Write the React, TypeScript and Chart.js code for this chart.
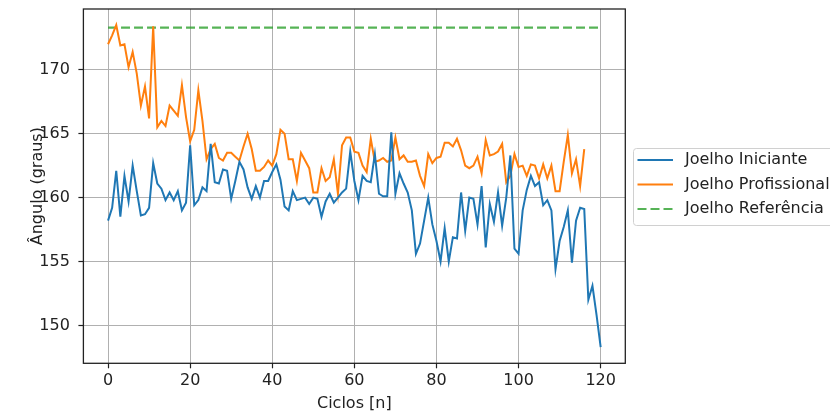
import React, { useEffect, useRef } from "react";
import { Chart, registerables } from "chart.js";

Chart.register(...registerables);

const iniciante = [
  158.2, 159.2, 162.1, 158.5, 161.7, 159.7, 162.5, 160.5, 158.6, 158.7,
  159.2, 162.7, 161.1, 160.7, 159.8, 160.4, 159.8, 160.5, 159.0, 159.6,
  164.1, 159.4, 159.8, 160.8, 160.5, 164.2, 161.2, 161.1, 162.2, 162.1,
  159.9, 161.3, 162.8, 162.2, 160.8, 159.9, 160.9, 160.0, 161.3, 161.3,
  162.0, 162.6, 161.4, 159.3, 159.0, 160.5, 159.8, 159.9, 160.0, 159.5,
  160.0, 159.9, 158.5, 159.7, 160.3, 159.6, 160.0, 160.4, 160.7, 163.6,
  161.3, 159.8, 161.7, 161.3, 161.2, 163.4, 160.3, 160.1, 160.1, 165.1,
  160.3, 161.9, 161.1, 160.4, 159.0, 155.6, 156.4, 158.2, 160.0, 157.9,
  156.6, 155.0, 157.6, 155.0, 156.9, 156.8, 160.4, 157.4, 160.0, 159.9,
  157.9, 160.9, 156.1, 159.5, 158.1, 160.4, 157.8, 160.0, 163.3, 156.0,
  155.6, 159.0, 160.6, 161.7, 160.9, 161.2, 159.4, 159.8, 159.0, 154.4,
  156.6, 157.7, 159.0, 154.9, 158.2, 159.2, 159.1, 152.0, 153.1, 150.8,
  148.3,
];

const profissional = [
  172.0, 172.7, 173.5, 171.9, 172.0, 170.2, 171.4, 169.7, 167.2, 168.7,
  166.2, 173.4, 165.5, 166.0, 165.6, 167.2, 166.8, 166.4, 168.8, 166.3,
  164.4, 165.3, 168.4, 166.0, 163.0, 163.8, 164.2, 163.1, 162.9, 163.5,
  163.5, 163.2, 162.9, 164.0, 165.0, 163.8, 162.1, 162.1, 162.4, 162.9,
  162.5, 163.4, 165.3, 165.0, 163.0, 163.0, 161.3, 163.5, 162.9, 162.3,
  160.4, 160.4, 162.3, 161.3, 161.6, 163.0, 160.3, 164.1, 164.7, 164.7,
  163.6, 163.5, 162.5, 162.0, 164.6, 162.8, 162.9, 163.1, 162.8, 162.9,
  164.7, 163.0, 163.3, 162.8, 162.8, 162.9, 161.7, 160.9, 163.4, 162.7,
  163.1, 163.2, 164.3, 164.3, 164.0, 164.6, 163.7, 162.5, 162.3, 162.5,
  163.2, 161.9, 164.5, 163.3, 163.4, 163.6, 164.2, 161.2, 161.7, 163.4,
  162.4, 162.5, 161.7, 162.6, 162.5, 161.5, 162.6, 161.5, 162.5, 160.5,
  160.5, 162.8, 164.9, 161.9, 163.0, 160.9, 163.8,
];

const referenciaCiclos = [0, 120];
const referencia = [173.3, 173.3];

const xTickValues = [0, 20, 40, 60, 80, 100, 120];
const yTickValues = [150, 155, 160, 165, 170];

const seriesNames = ["Joelho Iniciante", "Joelho Profissional", "Joelho Referência"];
const seriesColors = ["#1f77b4", "#ff7f0e", "rgba(44,160,44,0.8)"];

const FONT = { family: "'DejaVu Sans', sans-serif", size: 16 };
const TEXT = "#222";

const framePlugin = {
  id: "frameAndLegend",
  afterDraw(chart: any) {
    const { ctx, chartArea } = chart;
    ctx.save();
    ctx.strokeStyle = "#222";
    ctx.lineWidth = 1.3;
    ctx.setLineDash([]);
    ctx.strokeRect(
      chartArea.left,
      chartArea.top,
      chartArea.right - chartArea.left,
      chartArea.bottom - chartArea.top
    );

    // legend
    const bx = 633.5, by = 148.5, bw = 230, bh = 77, r = 3;
    ctx.beginPath();
    ctx.moveTo(bx + r, by);
    ctx.lineTo(bx + bw - r, by);
    ctx.quadraticCurveTo(bx + bw, by, bx + bw, by + r);
    ctx.lineTo(bx + bw, by + bh - r);
    ctx.quadraticCurveTo(bx + bw, by + bh, bx + bw - r, by + bh);
    ctx.lineTo(bx + r, by + bh);
    ctx.quadraticCurveTo(bx, by + bh, bx, by + bh - r);
    ctx.lineTo(bx, by + r);
    ctx.quadraticCurveTo(bx, by, bx + r, by);
    ctx.closePath();
    ctx.fillStyle = "rgba(255,255,255,0.8)";
    ctx.fill();
    ctx.strokeStyle = "#d0d0d0";
    ctx.lineWidth = 1;
    ctx.stroke();

    const rows = [160, 184.5, 209];
    ctx.font = `${FONT.size}px ${FONT.family}`;
    ctx.textBaseline = "middle";
    ctx.textAlign = "left";
    chart.data.datasets.forEach((ds: any, i: number) => {
      ctx.beginPath();
      ctx.strokeStyle = ds.borderColor;
      ctx.lineWidth = 2.2;
      ctx.setLineDash(ds.borderDash || []);
      ctx.moveTo(637.5, rows[i]);
      ctx.lineTo(673, rows[i]);
      ctx.stroke();
      ctx.setLineDash([]);
      ctx.fillStyle = TEXT;
      ctx.fillText(ds.label, 685, rows[i]);
    });
    ctx.restore();
  },
};

export default function App() {
  const ref = useRef<HTMLCanvasElement | null>(null);

  useEffect(() => {
    if (!ref.current) return;
    const chart = new Chart(ref.current, {
      type: "line",
      data: {
        datasets: [
          {
            label: seriesNames[0],
            data: iniciante.map((y, i) => ({ x: i, y })),
            borderColor: seriesColors[0],
            borderWidth: 2,
            pointRadius: 0,
            tension: 0,
            fill: false,
          },
          {
            label: seriesNames[1],
            data: profissional.map((y, i) => ({ x: i, y })),
            borderColor: seriesColors[1],
            borderWidth: 2,
            pointRadius: 0,
            tension: 0,
            fill: false,
          },
          {
            label: seriesNames[2],
            data: referencia.map((y, i) => ({ x: referenciaCiclos[i], y })),
            borderColor: seriesColors[2],
            borderWidth: 2.4,
            borderDash: [9, 4],
            pointRadius: 0,
            tension: 0,
            fill: false,
          },
        ],
      },
      options: {
        animation: false,
        responsive: false,
        maintainAspectRatio: false,
        devicePixelRatio: 1,
        layout: { padding: { left: 0, right: 204.7, top: 9, bottom: 0 } },
        plugins: {
          legend: { display: false },
          tooltip: { enabled: false },
        },
        scales: {
          x: {
            type: "linear",
            min: -6,
            max: 126,
            afterBuildTicks: (s: any) => {
              s.ticks = xTickValues.map((v) => ({ value: v }));
            },
            afterFit: (s: any) => {
              s.height = 52.7;
              s.paddingLeft = 0;
              s.paddingRight = 0;
            },
            ticks: {
              font: FONT,
              color: TEXT,
              padding: 3.2,
              maxRotation: 0,
              autoSkip: false,
            },
            grid: {
              color: "#b0b0b0",
              lineWidth: 1,
              tickColor: "#222",
              tickLength: 5,
              tickWidth: 1.2,
              drawTicks: true,
            },
            border: { display: false },
            title: {
              display: true,
              text: "Ciclos [n]",
              font: FONT,
              color: TEXT,
              padding: { top: 0, bottom: 2.4 },
            },
          },
          y: {
            type: "linear",
            min: 147.03,
            max: 174.76,
            afterBuildTicks: (s: any) => {
              s.ticks = yTickValues.map((v) => ({ value: v }));
            },
            afterFit: (s: any) => {
              s.width = 83.4;
              s.paddingTop = 0;
              s.paddingBottom = 0;
            },
            ticks: {
              font: FONT,
              color: TEXT,
              padding: 8.5,
              autoSkip: false,
            },
            grid: {
              color: "#b0b0b0",
              lineWidth: 1,
              tickColor: "#222",
              tickLength: 5,
              tickWidth: 1.2,
              drawTicks: true,
            },
            border: { display: false },
            title: {
              display: true,
              text: "Ângulo (graus)",
              font: FONT,
              color: TEXT,
              padding: { top: 28.5, bottom: 0 },
            },
          },
        },
      },
      plugins: [framePlugin],
    });
    return () => chart.destroy();
  }, []);

  return (
    <div style={{ position: "absolute", left: 0, top: 0, width: 830, height: 416, background: "#fff" }}>
      <canvas ref={ref} width={830} height={416} style={{ display: "block", width: 830, height: 416 }} />
    </div>
  );
}
